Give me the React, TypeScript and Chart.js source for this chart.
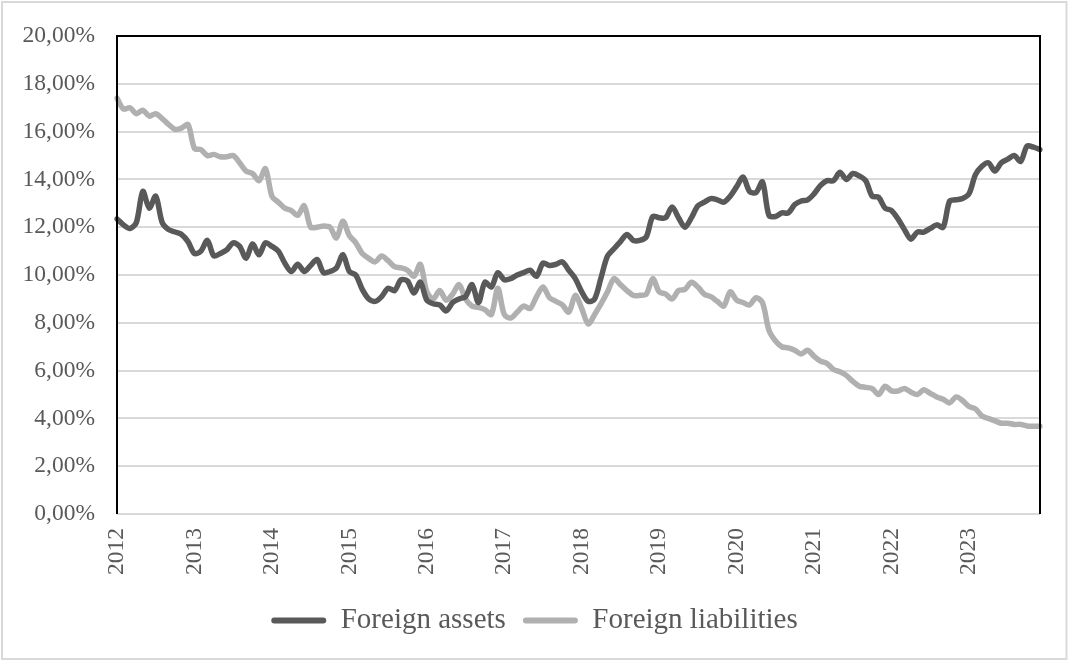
import React, { useEffect, useRef } from "react";
import { Chart, registerables } from "chart.js";

Chart.register(...registerables);

const YEARS = [2012, 2013, 2014, 2015, 2016, 2017, 2018, 2019, 2020, 2021, 2022, 2023];
const MONTHS = ["01", "02", "03", "04", "05", "06", "07", "08", "09", "10", "11", "12"];
const CATEGORIES = YEARS.flatMap((y) => MONTHS.map((m) => `${y}-${m}`));

const Y_TICKS = [0, 2, 4, 6, 8, 10, 12, 14, 16, 18, 20];

const FOREIGN_ASSETS = [
  12.35, 12.1, 11.95, 12.2, 13.5, 12.8, 13.3, 12.2, 11.9, 11.8, 11.7, 11.4,
  10.9, 11.0, 11.45, 10.8, 10.9, 11.05, 11.35, 11.2, 10.7, 11.3, 10.85, 11.35,
  11.2, 11.0, 10.5, 10.15, 10.45, 10.15, 10.4, 10.65, 10.1, 10.15, 10.3, 10.85,
  10.15, 10.0, 9.4, 9.0, 8.9, 9.1, 9.45, 9.35, 9.8, 9.75, 9.25, 9.7,
  8.95, 8.8, 8.75, 8.5, 8.85, 9.0, 9.1, 9.6, 8.85, 9.7, 9.5, 10.1,
  9.8, 9.85, 10.0, 10.1, 10.2, 9.95, 10.5, 10.4, 10.45, 10.55, 10.2, 9.85,
  9.3, 8.9, 9.0, 9.9, 10.8, 11.1, 11.4, 11.7, 11.45, 11.45, 11.6, 12.45,
  12.4, 12.4, 12.85, 12.4, 12.0, 12.4, 12.9, 13.05, 13.2, 13.15, 13.05, 13.3,
  13.7, 14.1, 13.5, 13.45, 13.9, 12.5, 12.45, 12.6, 12.6, 12.95, 13.1, 13.15,
  13.4, 13.75, 13.95, 13.95, 14.3, 14.0, 14.25, 14.15, 13.95, 13.3, 13.25, 12.8,
  12.7, 12.35, 11.9, 11.5, 11.8, 11.8, 11.95, 12.1, 12.0, 13.1, 13.15, 13.2,
  13.4, 14.2, 14.55, 14.7, 14.35, 14.7, 14.85, 15.0, 14.75, 15.4, 15.35, 15.25,
];

const FOREIGN_LIABILITIES = [
  17.4, 16.95, 17.0, 16.75, 16.9, 16.65, 16.75, 16.55, 16.3, 16.1, 16.15, 16.3,
  15.3, 15.25, 15.0, 15.05, 14.95, 14.95, 15.0, 14.7, 14.35, 14.25, 13.95, 14.45,
  13.3, 13.05, 12.8, 12.7, 12.5, 12.9, 12.0, 12.0, 12.05, 12.0, 11.55, 12.25,
  11.65, 11.35, 10.9, 10.7, 10.55, 10.8, 10.6, 10.35, 10.3, 10.2, 9.95, 10.45,
  9.3, 9.0, 9.35, 8.95, 9.2, 9.6, 9.0, 8.7, 8.65, 8.55, 8.35, 9.45,
  8.35, 8.2, 8.45, 8.7, 8.6, 9.1, 9.5, 9.05, 8.9, 8.75, 8.45, 9.15,
  8.6, 7.95, 8.35, 8.8, 9.3, 9.85, 9.6, 9.35, 9.15, 9.15, 9.2, 9.85,
  9.3, 9.2, 9.0, 9.35, 9.4, 9.7, 9.5, 9.2, 9.1, 8.9, 8.7, 9.3,
  8.95, 8.85, 8.75, 9.05, 8.85, 7.7, 7.25, 7.0, 6.95, 6.85, 6.7, 6.85,
  6.6, 6.4, 6.3, 6.05, 5.95, 5.8, 5.55, 5.35, 5.3, 5.25, 5.0, 5.35,
  5.15, 5.15, 5.25, 5.1, 5.0, 5.2, 5.05, 4.9, 4.8, 4.65, 4.9, 4.75,
  4.5, 4.4, 4.1, 4.0, 3.9, 3.8, 3.8, 3.75, 3.75, 3.68, 3.67, 3.67,
];

const SERIES_NAMES = ["Foreign assets", "Foreign liabilities"];
const SERIES_COLORS = ["#595959", "#b0b0b0"];

const FONT = "'Liberation Serif', 'Times New Roman', serif";
const TEXT_COLOR = "#595959";

const framePlugin = {
  id: "frame",
  beforeDraw(chart: any) {
    const { ctx, width, height } = chart;
    ctx.save();
    ctx.fillStyle = "#ffffff";
    ctx.fillRect(0, 0, width, height);
    ctx.strokeStyle = "#d9d9d9";
    ctx.lineWidth = 2;
    ctx.strokeRect(2, 2, width - 4.5, height - 4);
    ctx.restore();
  },
  afterDatasetsDraw(chart: any) {
    const { ctx, chartArea } = chart;
    const { left, right, top, bottom } = chartArea;
    ctx.save();
    ctx.strokeStyle = "#000000";
    ctx.lineWidth = 2;
    ctx.beginPath();
    ctx.moveTo(left, bottom);
    ctx.lineTo(left, top);
    ctx.lineTo(right, top);
    ctx.lineTo(right, bottom);
    ctx.stroke();
    ctx.restore();
  },
};

export default function App() {
  const canvasRef = useRef<HTMLCanvasElement | null>(null);

  useEffect(() => {
    if (!canvasRef.current) return;
    const chart = new Chart(canvasRef.current, {
      type: "line",
      data: {
        labels: CATEGORIES,
        datasets: [
          {
            label: SERIES_NAMES[0],
            data: FOREIGN_ASSETS,
            borderColor: SERIES_COLORS[0],
            backgroundColor: SERIES_COLORS[0],
            borderWidth: 5.5,
            pointRadius: 0,
            tension: 0.3,
            borderJoinStyle: "round",
            borderCapStyle: "round",
          },
          {
            label: SERIES_NAMES[1],
            data: FOREIGN_LIABILITIES,
            borderColor: SERIES_COLORS[1],
            backgroundColor: SERIES_COLORS[1],
            borderWidth: 5.5,
            pointRadius: 0,
            tension: 0.3,
            borderJoinStyle: "round",
            borderCapStyle: "round",
          },
        ],
      },
      options: {
        animation: false,
        responsive: true,
        maintainAspectRatio: false,
        layout: { padding: { left: 0, right: 0, top: 33, bottom: 16 } },
        plugins: {
          tooltip: { enabled: false },
          legend: {
            position: "bottom",
            labels: {
              font: { family: FONT, size: 29 },
              color: TEXT_COLOR,
              boxWidth: 55,
              boxHeight: 6,
              padding: 17,
              generateLabels: (c: any) =>
                Chart.defaults.plugins.legend.labels
                  .generateLabels(c)
                  .map((l: any) => ({ ...l, lineWidth: 0, borderRadius: 3 })),
            },
          },
        },
        scales: {
          x: {
            type: "category",
            grid: { display: false, drawTicks: false },
            border: { display: false },
            ticks: {
              autoSkip: false,
              minRotation: 90,
              maxRotation: 90,
              padding: 14,
              color: TEXT_COLOR,
              font: { family: FONT, size: 23.5 },
              callback: (_v: any, i: number) => (i % 12 === 0 ? String(YEARS[i / 12]) : ""),
            },
            afterFit: (s: any) => {
              s.height = 75;
              s.paddingRight = 0;
            },
          },
          y: {
            min: Y_TICKS[0],
            max: Y_TICKS[Y_TICKS.length - 1],
            grid: { color: "#d9d9d9", lineWidth: 2, drawTicks: false },
            border: { display: false },
            ticks: {
              stepSize: 2,
              padding: 22,
              color: TEXT_COLOR,
              font: { family: FONT, size: 23.5 },
              callback: (v: any) => Number(v).toFixed(2).replace(".", ",") + "%",
            },
            afterFit: (s: any) => {
              s.width = 117;
            },
          },
          yRight: {
            position: "right",
            display: true,
            grid: { display: false, drawTicks: false },
            border: { display: false },
            ticks: { display: false },
            afterFit: (s: any) => {
              s.width = 29;
            },
          },
        },
      },
      plugins: [framePlugin],
    } as any);
    return () => chart.destroy();
  }, []);

  return (
    <div style={{ position: "fixed", left: 0, top: 0, width: 1069, height: 661, background: "#fff" }}>
      <canvas ref={canvasRef} />
    </div>
  );
}
